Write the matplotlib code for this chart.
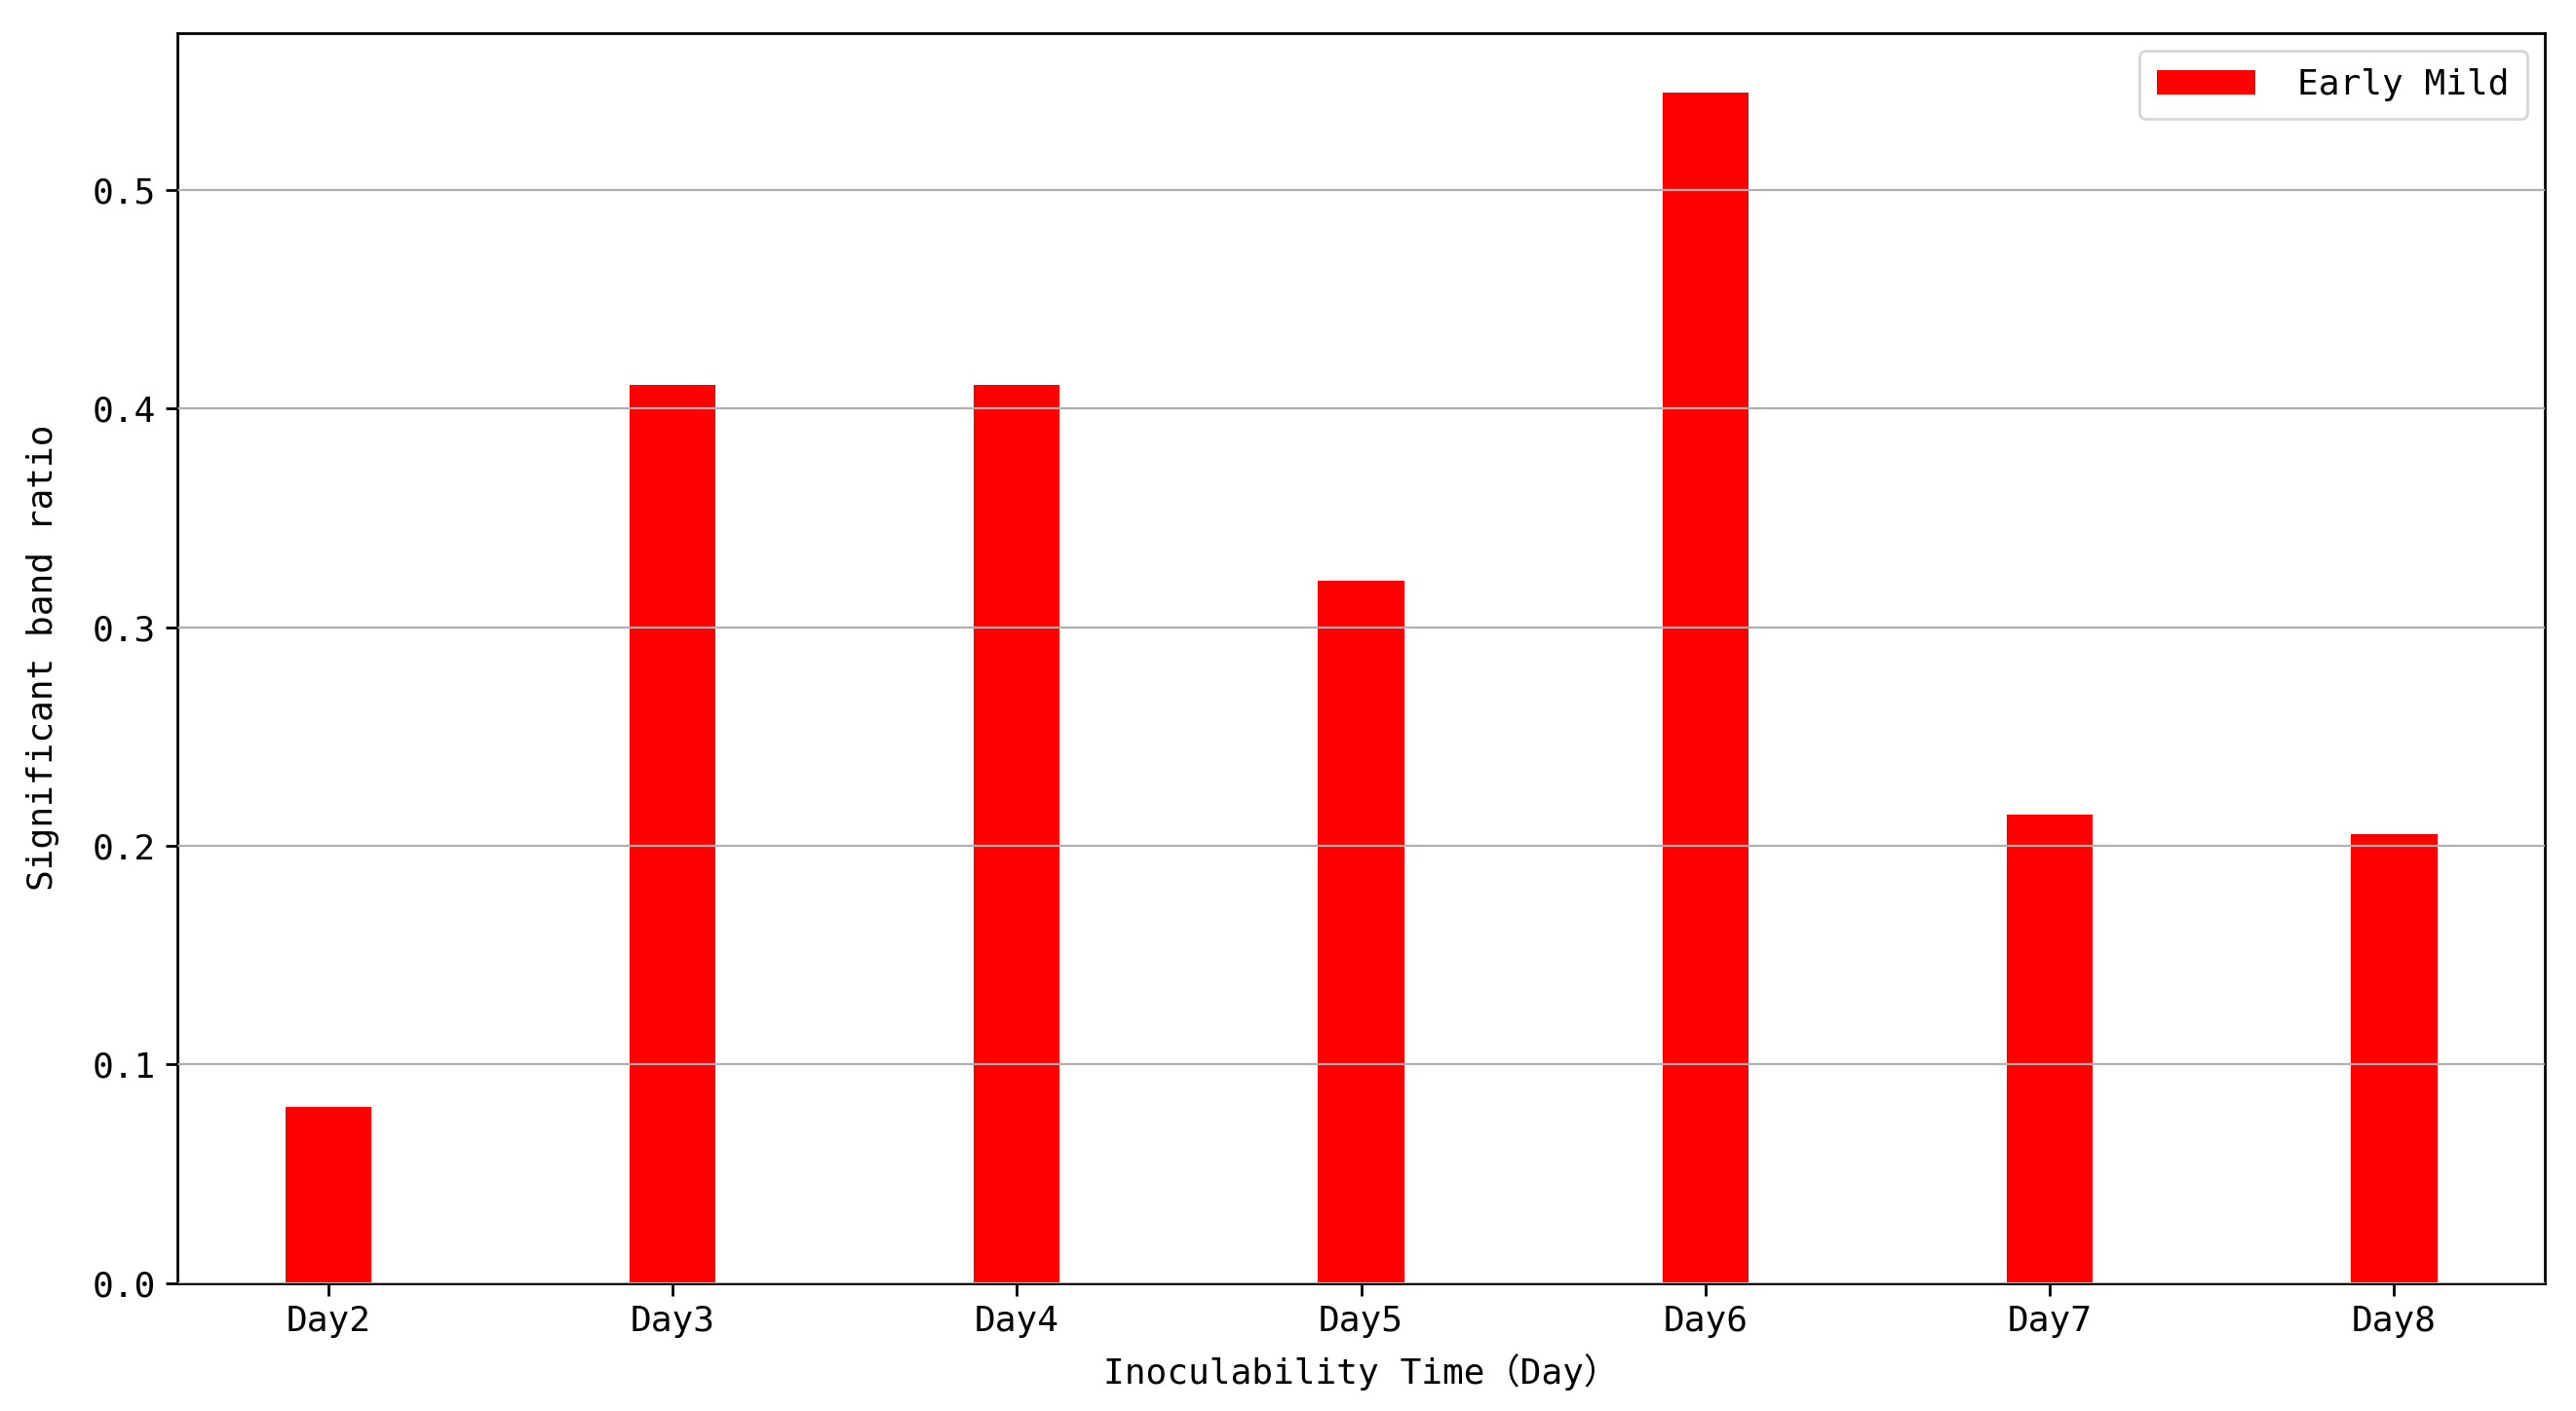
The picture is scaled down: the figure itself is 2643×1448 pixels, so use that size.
import matplotlib
matplotlib.use("Agg")
import matplotlib.pyplot as plt

plt.rcParams['font.family'] = ['DejaVu Sans Mono', 'Noto Sans CJK SC']

categories = ["Day2", "Day3", "Day4", "Day5", "Day6", "Day7", "Day8"]
early_mild = [0.0804, 0.4107, 0.4107, 0.3214, 0.5446, 0.2143, 0.2054]
series_label = "Early Mild"

fig = plt.figure(figsize=(13.215, 7.24), dpi=200)
ax = fig.add_axes([0.0689, 0.0908, 0.9190, 0.8859])

x = list(range(len(categories)))
ax.bar(x, early_mild, width=0.25, color="#ff0000", label=series_label, zorder=1)
ax.set_axisbelow(False)
ax.yaxis.grid(True, color="#b0b0b0", linewidth=0.8, zorder=2)

ax.set_xticks(x)
ax.set_xticklabels(categories)
ax.set_yticks([0.0, 0.1, 0.2, 0.3, 0.4, 0.5])
ax.tick_params(labelsize=13, width=1.0, length=4.5)
for s in ax.spines.values():
    s.set_linewidth(1.0)

ax.set_xlabel("Inoculability Time（Day）", fontsize=13, labelpad=6)
ax.set_ylabel("Significant band ratio", fontsize=13, labelpad=12)
ax.legend(loc="upper right", fontsize=13, handlelength=2.8, handletextpad=1.2,
          borderpad=0.5)

fig.savefig("out.png", dpi=200)
